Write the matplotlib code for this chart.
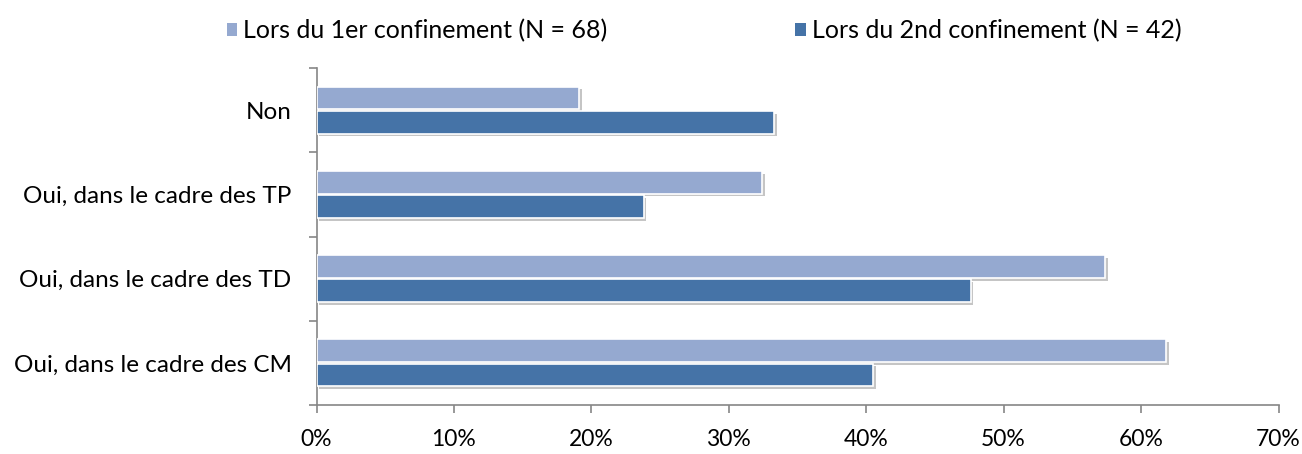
import matplotlib
matplotlib.use("Agg")
import matplotlib.pyplot as plt
import matplotlib.patheffects as pe
import numpy as np
from matplotlib.patches import Patch

categories = ["Non", "Oui, dans le cadre des TP", "Oui, dans le cadre des TD", "Oui, dans le cadre des CM"]
series_names = ["Lors du 1er confinement (N = 68)", "Lors du 2nd confinement (N = 42)"]
first = [19.1, 32.4, 57.4, 61.8]
second = [33.3, 23.8, 47.6, 40.5]
xticks = [0, 10, 20, 30, 40, 50, 60, 70]
xticklabels = ["0%", "10%", "20%", "30%", "40%", "50%", "60%", "70%"]

light = "#95A9D0"
dark = "#4573A7"
axis_col = "#868686"

plt.rcParams['font.family'] = ['Lato', 'DejaVu Sans']

fig = plt.figure(figsize=(13.02, 4.54), dpi=100)
ax = fig.add_axes([316.5/1302, 1 - 405/454, (1278.5-316.5)/1302, (405-68)/454])

y = np.arange(len(categories))
h = 0.27
shadow = [pe.SimplePatchShadow(offset=(2, -2), shadow_rgbFace="#7f7f7f", alpha=0.45), pe.Normal()]
b1 = ax.barh(y - h/2 - 0.01, first, height=h, color=light, edgecolor="white", linewidth=1.2, zorder=3)
b2 = ax.barh(y + h/2 + 0.01, second, height=h, color=dark, edgecolor="white", linewidth=1.2, zorder=3)
for b in list(b1) + list(b2):
    b.set_path_effects(shadow)

ax.set_ylim(len(categories) - 0.5, -0.5)
ax.set_xlim(0, 70)
ax.set_xticks(xticks)
ax.set_xticklabels(xticklabels)
ax.set_yticks(y)
ax.set_yticklabels(categories)
ax.set_yticks(np.arange(len(categories) + 1) - 0.5, minor=True)
ax.tick_params(axis='y', which='major', length=0, pad=18, labelsize=17.5, labelcolor="black")
ax.tick_params(axis='y', which='minor', length=6, width=1.2, color=axis_col, direction='out')
ax.tick_params(axis='x', which='major', length=6, width=1.2, color=axis_col, direction='out', pad=11, labelsize=16.5)

for s in ['top', 'right']:
    ax.spines[s].set_visible(False)
for s in ['left', 'bottom']:
    ax.spines[s].set_color(axis_col)
    ax.spines[s].set_linewidth(1.2)

handles = [Patch(facecolor=light, edgecolor='none'), Patch(facecolor=dark, edgecolor='none')]
fig.legend(handles, series_names, loc='center', bbox_to_anchor=(704/1302, 1 - 31/454), ncol=2,
           frameon=False, fontsize=18, handlelength=0.42, handleheight=0.42, handletextpad=0.25,
           columnspacing=7.5, borderpad=0, borderaxespad=0)

fig.savefig("out.png", dpi=100)
